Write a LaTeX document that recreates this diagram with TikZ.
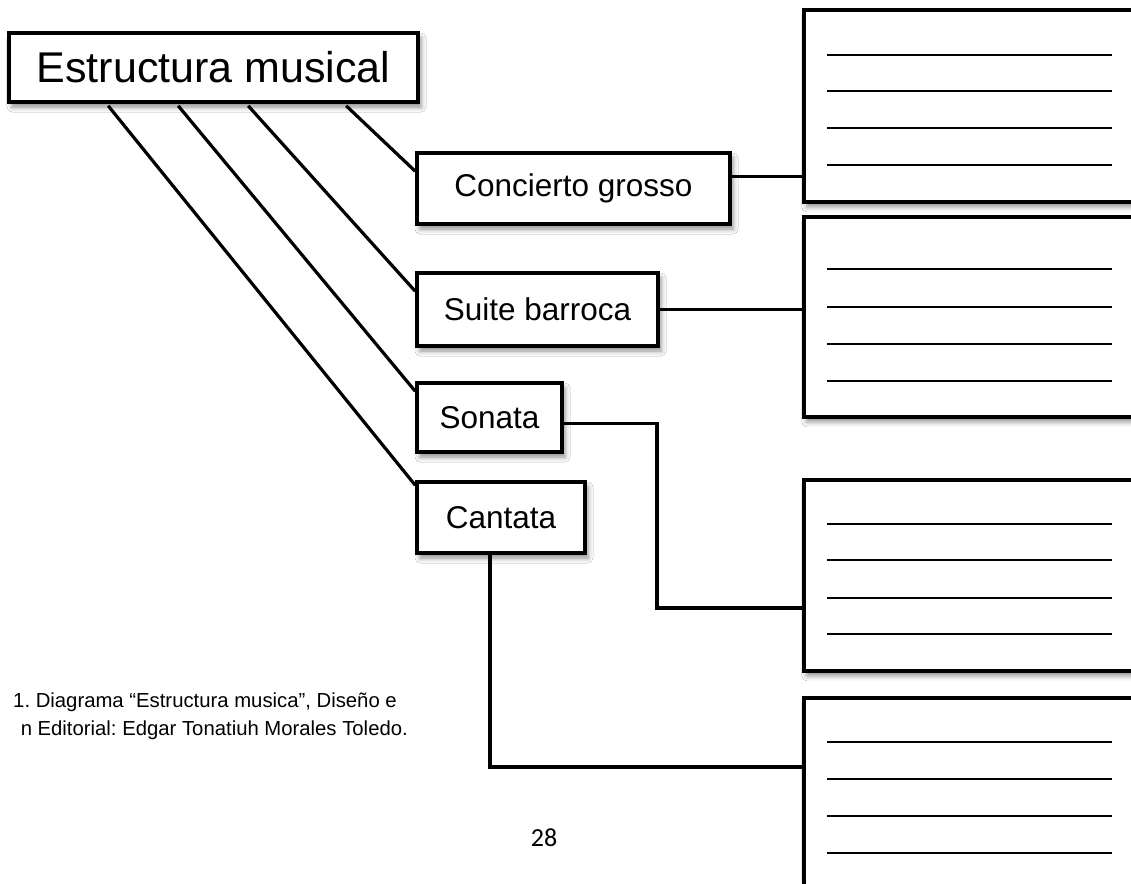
\documentclass[tikz,border=0pt]{standalone}
\usepackage{fontspec}
\setmainfont{Liberation Sans}
\newfontfamily\calibrifont{Carlito}
\usetikzlibrary{calc,shadows.blur}
\frenchspacing
\begin{document}
\begin{tikzpicture}[x=1pt,y=-1pt,
  box/.style={draw=black, line width=3.6pt, fill=white, rectangle, inner sep=0pt,
    blur shadow={shadow xshift=3pt, shadow yshift=-5pt, shadow blur radius=5pt, shadow opacity=45}},
  bigtxt/.style={font=\fontsize{43}{50}\selectfont},
  midtxt/.style={font=\fontsize{31.5}{37}\selectfont},
  captxt/.style={inner sep=0pt, anchor=base east, font=\fontsize{20.3}{24}\selectfont},
  conn/.style={line width=3.2pt, line join=miter},
  rulel/.style={line width=2.6pt},
]
\useasboundingbox (0,0) rectangle (1131,883);
\clip (0,0) rectangle (1131,883);
\fill[white] (0,0) rectangle (1131,883);

% right answer boxes
\node[box, anchor=north west, minimum width=360, minimum height=192] (r1) at (802,8) {};
\node[box, anchor=north west, minimum width=360, minimum height=200] (r2) at (802,215) {};
\node[box, anchor=north west, minimum width=360, minimum height=191] (r3) at (802,478) {};
\node[box, anchor=north west, minimum width=360, minimum height=260] (r4) at (802,696) {};

\foreach \yy in {55,91,128,165,269,307,344,381,524,560,598,634,742,779,816,853}
  \draw[rulel] (827,\yy) -- (1112,\yy);

% main and category boxes
\node[box, bigtxt, minimum width=409, minimum height=69] (main) at (213.5,67.5) {Estructura musical};
\node[box, midtxt, minimum width=313, minimum height=71] (conc) at (573.5,188.5) {Concierto grosso};
\node[box, midtxt, minimum width=241, minimum height=73] (suite) at (537.5,309.5) {Suite barroca};
\node[box, midtxt, minimum width=145, minimum height=69] (sonata) at (489.5,417.5) {Sonata};
\node[box, midtxt, minimum width=168, minimum height=71] (cantata) at (501,517.5) {Cantata};

% connectors from main box
\draw[conn] ($(main.south west)+(339,2)$) -- ($(conc.north west)+(0,20)$);
\draw[conn] ($(main.south west)+(241,2)$) -- ($(suite.north west)+(0,20)$);
\draw[conn] ($(main.south west)+(171,2)$) -- ($(sonata.north west)+(0,10)$);
\draw[conn] ($(main.south west)+(101,2)$) -- ($(cantata.north west)+(0,5)$);

% connectors to answer boxes
\coordinate (cstart) at ($(conc.north east)+(0,25)$);
\draw[conn] (cstart) -- (cstart -| r1.west);
\draw[conn] (suite.east) -- (suite.east -| r2.west);
\coordinate (sbend) at (657,608);
\draw[conn] ($(sonata.north east)+(0,42)$) -| (sbend) -- (sbend -| r3.west);
\coordinate (cbend) at (490,767);
\draw[conn] (cantata.south -| cbend) -- (cbend) -- (cbend -| r4.west);

% caption and page number
\node[captxt] (cap1) at (397,707) {1. Diagrama “Estructura musica”, Diseño e};
\node[captxt] (cap2) at (408,735) {n Editorial: Edgar Tonatiuh Morales Toledo.};
\node[font=\calibrifont\fontsize{26}{30}\selectfont] (pg) at (544,838) {28};
\end{tikzpicture}
\end{document}
